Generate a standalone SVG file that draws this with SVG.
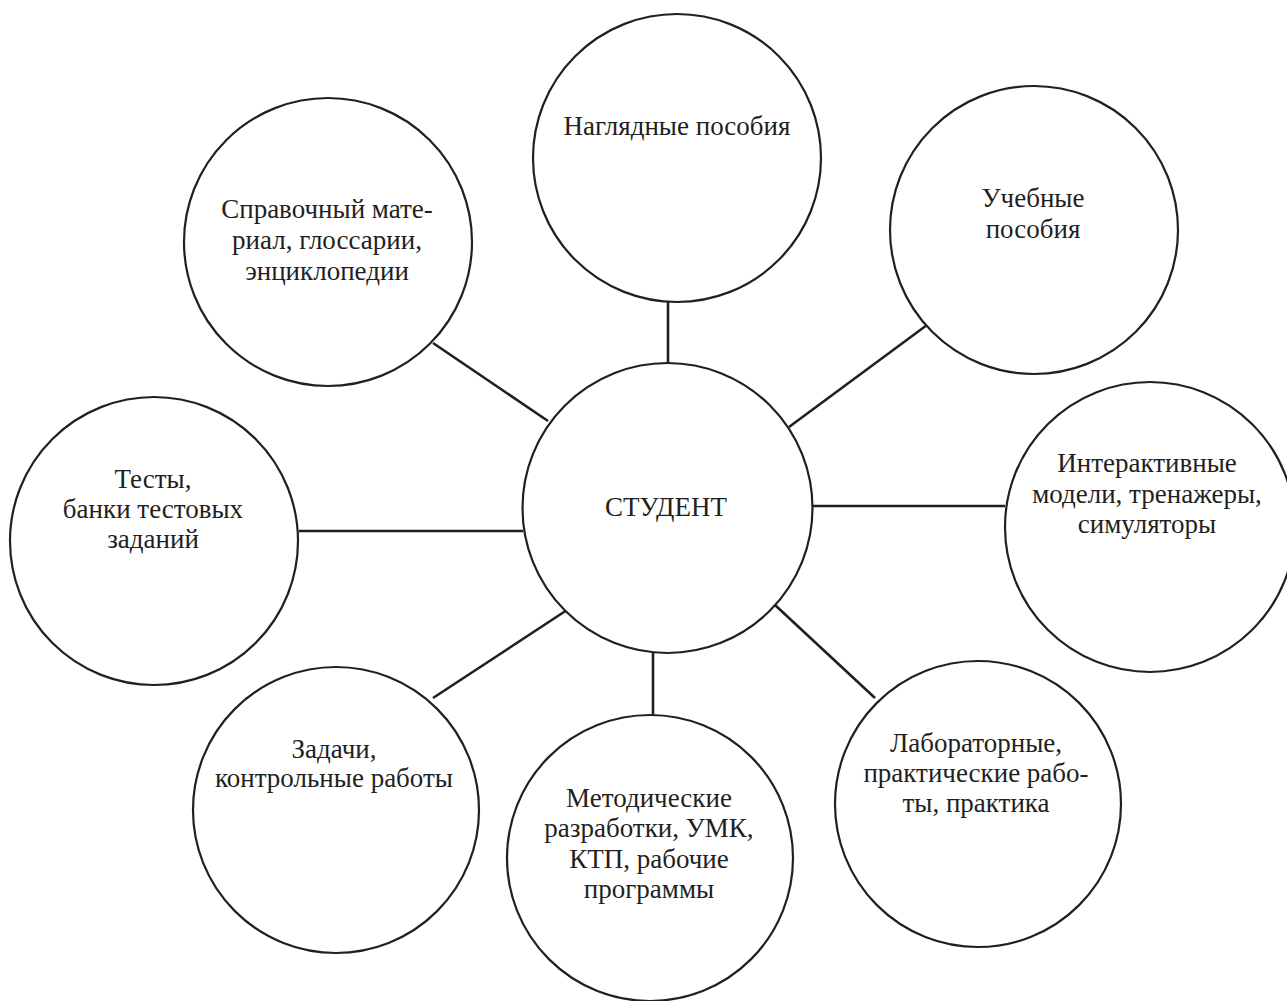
<svg xmlns="http://www.w3.org/2000/svg" width="1287" height="1001" viewBox="0 0 1287 1001">
<style>
.node circle{fill:#fff;stroke:#231f20;stroke-width:2.2}
.node text{font-family:"Liberation Serif","Times New Roman",serif;font-size:27px;fill:#231f20;text-anchor:middle}
#connectors line{stroke:#231f20;stroke-width:2.6}
</style>
<rect width="1287" height="1001" fill="#fff"/>
<g id="connectors">
<line x1="668" y1="302" x2="668" y2="364"/>
<line x1="927" y1="325" x2="789" y2="427"/>
<line x1="812" y1="506" x2="1005" y2="506"/>
<line x1="775" y1="605" x2="875" y2="698"/>
<line x1="653" y1="650" x2="653" y2="716"/>
<line x1="567" y1="610" x2="433" y2="698"/>
<line x1="299" y1="531" x2="523" y2="531"/>
<line x1="433" y1="343" x2="548" y2="421"/>
</g>
<g id="node-naglyadnye" class="node">
<circle cx="677" cy="158" r="144"/>
<text x="677" y="135">Наглядные пособия</text>
</g>
<g id="node-spravochny" class="node">
<circle cx="328" cy="242" r="144"/>
<text x="327" y="218">Справочный мате-</text>
<text x="327" y="249">риал, глоссарии,</text>
<text x="327" y="280">энциклопедии</text>
</g>
<g id="node-uchebnye" class="node">
<circle cx="1034" cy="230" r="144"/>
<text x="1033" y="207">Учебные</text>
<text x="1033" y="238">пособия</text>
</g>
<g id="node-interaktivnye" class="node">
<circle cx="1150" cy="527" r="145"/>
<text x="1147" y="472">Интерактивные</text>
<text x="1147" y="503">модели, тренажеры,</text>
<text x="1147" y="533">симуляторы</text>
</g>
<g id="node-testy" class="node">
<circle cx="154" cy="541" r="144"/>
<text x="153" y="488">Тесты,</text>
<text x="153" y="518">банки тестовых</text>
<text x="153" y="548">заданий</text>
</g>
<g id="node-student" class="node">
<circle cx="667.5" cy="508" r="145"/>
<text x="666" y="516">СТУДЕНТ</text>
</g>
<g id="node-zadachi" class="node">
<circle cx="336" cy="810" r="143"/>
<text x="334" y="758">Задачи,</text>
<text x="334" y="787">контрольные работы</text>
</g>
<g id="node-metodicheskie" class="node">
<circle cx="650" cy="858" r="143"/>
<text x="649" y="807">Методические</text>
<text x="649" y="837">разработки, УМК,</text>
<text x="649" y="868">КТП, рабочие</text>
<text x="649" y="898">программы</text>
</g>
<g id="node-laboratornye" class="node">
<circle cx="978" cy="804" r="143"/>
<text x="976" y="752">Лабораторные,</text>
<text x="976" y="782">практические рабо-</text>
<text x="976" y="812">ты, практика</text>
</g>
</svg>
